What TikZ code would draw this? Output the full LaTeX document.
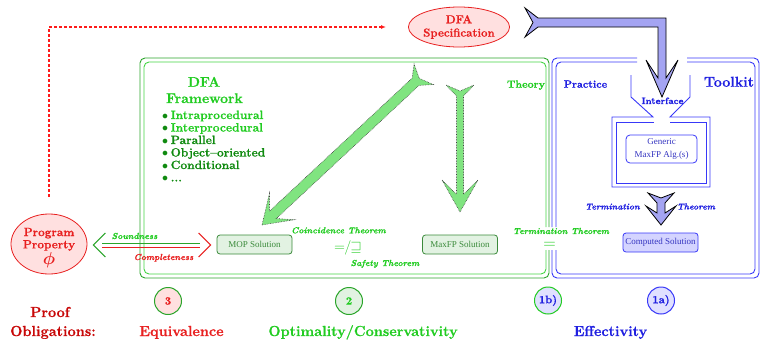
\documentclass[tikz,border=0pt]{standalone}
\usepackage{fontspec}
\setmainfont{Latin Modern Roman}[BoldFeatures={FakeBold=0.8}, BoldItalicFeatures={FakeBold=0.8}]
\newfontfamily\tmsfont{Liberation Serif}
\usetikzlibrary{arrows.meta,calc,shapes.geometric}
\definecolor{tred}{HTML}{E82020}
\definecolor{dashred}{HTML}{FF1A1A}
\definecolor{dred}{HTML}{C80808}
\definecolor{pinkf}{HTML}{FFE0E0}
\definecolor{tgreen}{HTML}{22CC22}
\definecolor{dgreen}{HTML}{108A10}
\definecolor{fgreen}{HTML}{2AA52A}
\definecolor{igreen}{HTML}{44D444}
\definecolor{lgreen}{HTML}{E2F2E2}
\definecolor{bgreen}{HTML}{3A8A3A}
\definecolor{agreen}{HTML}{80E480}
\definecolor{tblue}{HTML}{2020E0}
\definecolor{fblue}{HTML}{3838F8}
\definecolor{sblue}{HTML}{3434C0}
\definecolor{ablue}{HTML}{A4A4F2}
\definecolor{lblue}{HTML}{E0E0FF}
\definecolor{cblue}{HTML}{D4D4FF}
\tikzset{
 ttl/.style={font=\fontsize{11.5}{13.3}\selectfont\bfseries, inner sep=0},
 fwl/.style={font=\fontsize{12}{12.5}\selectfont\bfseries, inner sep=0, anchor=base west},
 fwt/.style={font=\fontsize{14}{16}\selectfont\bfseries, inner sep=0, anchor=base, text=tgreen},
 big/.style={font=\fontsize{14.5}{16}\selectfont\bfseries, inner sep=0, anchor=base},
 lab/.style={font=\fontsize{8.7}{10}\selectfont\bfseries\itshape, inner sep=0, anchor=base},
 smalltxt/.style={font=\tmsfont\fontsize{9}{12.5}\selectfont},
 solbox/.style={draw, rounded corners=3pt, minimum width=75, minimum height=19, inner sep=0, line width=0.8, smalltxt},
 numc/.style={circle, minimum size=27, inner sep=0, line width=1, font=\fontsize{11}{12}\selectfont\bfseries},
 gframe/.style={line width=0.9, rounded corners=5pt},
 bline/.style={fblue, line width=0.9},
 garr/.style={fill=agreen, draw=black!75, densely dotted, line width=0.6},
 barr/.style={fill=ablue, draw=black, line width=0.8, line join=miter},
 reddash/.style={draw=dashred, line width=1.1, dash pattern=on 3pt off 2pt},
 pics/greenarr/.style args={#1/#2/#3}{code={\path[garr] (0,0) -- (-#3,18) -- ({-0.55*#3},#2) -- ({11-#1},#2) -- (-#1,14) -- ({6-#1},0) -- (-#1,-14) -- ({11-#1},-#2) -- ({-0.55*#3},-#2) -- (-#3,-18) -- cycle;}},
}
\begin{document}
\begin{tikzpicture}[x=1pt,y=-1pt]
\useasboundingbox (0,0) rectangle (760,340);

% ---------- frames
\draw[gframe, fgreen] (549,227) -- (549,58) -- (140,58) -- (140,278) -- (549,278) -- (549,250);
\draw[gframe, igreen] (546,227) -- (546,62) -- (144,62) -- (144,274) -- (546,274) -- (546,250);
\draw[gframe, fblue] (637,58) -- (552,58) -- (552,227);
\draw[gframe, fblue] (552,250) -- (552,278) -- (759,278) -- (759,58) -- (687,58);
\draw[gframe, fblue] (637,62) -- (556,62) -- (556,227);
\draw[gframe, fblue] (556,250) -- (556,274) -- (755,274) -- (755,62) -- (687,62);

% ---------- interface funnel and algorithm frame
\draw[bline] (631,75) -- (631,97) -- (653,117) -- (612,117) -- (612,187) -- (710,187) -- (710,117) -- (670,117) -- (690,97) -- (690,75);
\draw[bline] (654,122) -- (616,122) -- (616,183) -- (706,183) -- (706,122) -- (670,122);

% ---------- nodes
\node[ellipse, draw=tred, fill=pinkf, line width=0.8, minimum width=98, minimum height=40, inner sep=0, ttl, text=tred, align=center] (spec) at (459,27) {DFA\\Specification};
\node[ellipse, draw=tred, fill=pinkf, line width=0.8, minimum width=76, minimum height=60, inner sep=0] (pp) at (49,244) {};
\node[ttl, text=tred, align=center, font=\fontsize{11.8}{12.3}\selectfont\bfseries] (pptext) at (49,248) {Program\\Property\\[1pt]{\fontsize{17}{17}\selectfont\boldmath$\phi$}};

\node[solbox, draw=bgreen, fill=lgreen, text=bgreen] (mop) at (254.5,244.5) {MOP Solution};
\node[solbox, draw=bgreen, fill=lgreen, text=bgreen] (maxfp) at (460,244.5) {MaxFP Solution};
\node[solbox, draw=fblue, fill=cblue, text=sblue] (comp) at (660.5,242.5) {Computed Solution};
\node[draw=fblue, rounded corners=4pt, line width=0.8, minimum width=71, minimum height=28, inner sep=0, smalltxt, text=sblue, align=center] (gen) at (661.5,149) {Generic\\MaxFP Alg.(s)};

% ---------- framework text
\node[fwt] (dfa) at (204,86.7) {DFA};
\node[fwt] (fw) at (204.5,103) {Framework};
\node[fwl, text=tgreen] (l1) at (162,119) {\textcolor{dgreen}{$\bullet$}\hspace{2.5pt}Intraprocedural};
\node[fwl, text=tgreen] (l2) at (162,131.5) {\textcolor{dgreen}{$\bullet$}\hspace{2.5pt}Interprocedural};
\node[fwl, text=dgreen] (l3) at (162,144) {$\bullet$\hspace{2.5pt}Parallel};
\node[fwl, text=dgreen] (l4) at (162,156.5) {$\bullet$\hspace{2.5pt}Object--oriented};
\node[fwl, text=dgreen] (l5) at (162,169) {$\bullet$\hspace{2.5pt}Conditional};
\node[fwl, text=dgreen] (l6) at (162,181.5) {$\bullet$\hspace{2.5pt}...};

\node[ttl, anchor=base, text=tgreen, font=\fontsize{10.5}{12}\selectfont\bfseries] (theory) at (526,87.7) {Theory};
\node[ttl, anchor=base, text=tblue, font=\fontsize{10.5}{12}\selectfont\bfseries] (practice) at (585.5,87.7) {Practice};
\node[ttl, anchor=base, text=tblue, font=\fontsize{14.3}{16}\selectfont\bfseries] (toolkit) at (729,86.7) {Toolkit};
\node[ttl, anchor=base, text=tblue, font=\fontsize{9.2}{11}\selectfont\bfseries] (iface) at (662.5,104) {Interface};

% ---------- green arrows
\pic[shift={(262,225)}, rotate=223] {greenarr=221/5/27};
\pic[shift={(460,212)}, rotate=-90] {greenarr=127/3.5/32};

% ---------- blue arrows
\path[barr] (525,8) -- (538,18) -- (666,18) -- (666,78) -- (678,60) -- (662,97) -- (646,60) -- (658,78) -- (658,27) -- (538,27) -- (525,37) -- (533,22.5) -- cycle;
\path[barr] (648,193) -- (657,203) -- (657,213) -- (646,206) -- (661,225) -- (676,206) -- (665,213) -- (665,203) -- (674,193) -- (661,198) -- cycle;

% ---------- soundness / completeness
\coordinate (sl) at ($(pp.east)+(6,1)$);
\coordinate (sr) at ($(mop.west)+(-6,0.5)$);
\draw[fgreen, line width=1] ($(sl)+(12,-12)$) -- (sl) -- ($(sl)+(12,12)$);
\draw[fgreen, line width=1] ($(sl)+(9,-2)$) -- ($(sr)+(-11,-2)$);
\draw[tred, line width=1] ($(sr)+(-12,-12)$) -- (sr) -- ($(sr)+(-12,12)$);
\draw[tred, line width=1] ($(sl)+(9,2)$) -- ($(sr)+(-11,2)$);

% ---------- labels
\node[lab, text=tgreen] (snd) at (134.5,239) {Soundness};
\node[lab, text=tred] (cpl) at (163.5,260) {Completeness};
\node[lab, text=tgreen] (coin) at (338.5,233.3) {Coincidence Theorem};
\node[inner sep=0, text=tgreen, font=\fontsize{15}{16}\selectfont] (eqsq) at (348,248) {${=}\mkern-1mu{/}\mkern-1mu{\sqsupseteq}$};
\node[lab, text=tgreen] (safe) at (385,266) {Safety Theorem};
\node[lab, text=tgreen] (term) at (561,234) {Termination Theorem};
\node[inner sep=0, text=tgreen, font=\fontsize{16}{17}\selectfont] (eqt) at (549.5,245.5) {$=$};
\node[lab, text=tblue] (term1) at (612.5,209.5) {Termination};
\node[lab, text=tblue] (term2) at (696,209.5) {Theorem};

% ---------- circles
\node[numc, draw=fgreen, fill=pinkf, text=tred] (c3) at (168,301) {3};
\node[numc, draw=fgreen, fill=lgreen, text=tgreen] (c2) at (349,301) {2};
\node[numc, draw=tgreen, fill=lblue, text=tblue] (c1b) at (548,300.5) {1b)};
\node[numc, draw=fblue, fill=lblue, text=tblue] (c1a) at (661,300.5) {1a)};

% ---------- bottom labels
\node[big, text=dred] (po1) at (50,317) {Proof};
\node[big, text=dred] (po2) at (53,336) {Obligations:};
\node[big, text=tred] (eqv) at (181.5,336) {Equivalence};
\node[big, text=tgreen] (opt) at (363,336) {Optimality/Conservativity};
\node[big, text=tblue] (eff) at (610.5,336) {Effectivity};

% ---------- red dashed connector
\draw[reddash, shorten <=17pt, shorten >=22pt, -{Latex[open, length=5pt, width=4pt]}] (pp.north) |- (spec.west);
\end{tikzpicture}
\end{document}
